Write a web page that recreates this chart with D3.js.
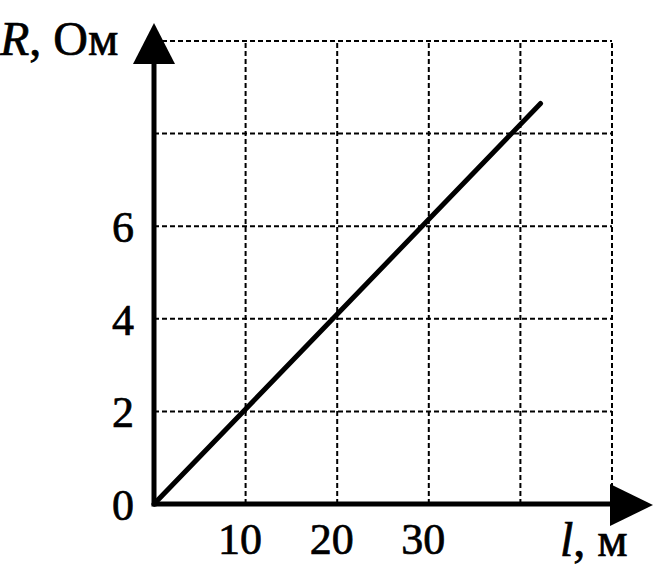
<!DOCTYPE html>
<html><head><meta charset="utf-8">
<script src="https://cdn.jsdelivr.net/npm/d3@7"></script>
<style>
html,body{margin:0;padding:0;background:#fff;}
svg{display:block;}
text{font-family:"Liberation Serif","Times New Roman",serif;fill:#000;stroke:#000;stroke-width:0.7px;}
</style></head><body>
<svg id="c" width="668" height="569"></svg>
<script>
// Data
const lengths = [0, 42.2];          // l, м
const resistances = [0, 8.65];      // R, Ом
const xTickLabels = [10, 20, 30];
const yTickLabels = [0, 2, 4, 6];
const xGrid = [10, 20, 30, 40, 50];
const yGrid = [2, 4, 6, 8, 10];
const xTitle = "l";
const xUnit = ", м";
const yTitle = "R";
const yUnit = ", Ом";

const svg = d3.select("#c");
const x = d3.scaleLinear().domain([0, 50]).range([154, 612]);
const y = d3.scaleLinear().domain([0, 10]).range([504, 41]);

// Grid (dashed)
const grid = svg.append("g").attr("stroke", "#000").attr("stroke-width", 2)
  .attr("stroke-dasharray", "5,3").attr("fill", "none");
grid.selectAll("line.v").data(xGrid).join("line").attr("class", "v")
  .attr("x1", d => x(d)).attr("x2", d => x(d)).attr("y1", y(0)).attr("y2", y(10));
grid.selectAll("line.h").data(yGrid).join("line").attr("class", "h")
  .attr("x1", x(0)).attr("x2", x(50)).attr("y1", d => y(d)).attr("y2", d => y(d));

// Axes labels via d3 axes
const fs = 44;
const xAxis = svg.append("g").attr("transform", `translate(-6,${y(0) + 50})`)
  .call(d3.axisBottom(x).tickValues(xTickLabels).tickSize(0).tickPadding(0).tickFormat(d3.format("d")));
xAxis.select(".domain").remove();
xAxis.selectAll("text").attr("font-size", fs).attr("dy", 0).attr("y", 0)
  .style("font-family", '"Liberation Serif", serif');

const yAxis = svg.append("g").attr("transform", `translate(${x(0) - 20},0)`)
  .call(d3.axisLeft(y).tickValues(yTickLabels).tickSize(0).tickPadding(0).tickFormat(d3.format("d")));
yAxis.select(".domain").remove();
yAxis.selectAll("text").attr("font-size", fs).attr("dy", "0.35em")
  .style("font-family", '"Liberation Serif", serif');

// Main axes
svg.append("line").attr("x1", x(0)).attr("x2", 612).attr("y1", y(0)).attr("y2", y(0))
  .attr("stroke", "#000").attr("stroke-width", 5);
svg.append("line").attr("x1", x(0)).attr("x2", x(0)).attr("y1", y(0) + 2.5).attr("y2", 62)
  .attr("stroke", "#000").attr("stroke-width", 5);
// Arrowheads
svg.append("path").attr("d", `M${x(0)},23 L${x(0) - 21},64 L${x(0) + 21},64 Z`).attr("fill", "#000");
svg.append("path").attr("d", `M653,${y(0) + 1} L610,${y(0) - 20} L610,${y(0) + 22} Z`).attr("fill", "#000");

// Data line
const line = d3.line().x((d, i) => x(lengths[i])).y((d, i) => y(resistances[i]));
svg.append("path").datum(lengths).attr("d", line)
  .attr("stroke", "#000").attr("stroke-width", 5).attr("fill", "none").attr("stroke-linecap", "round");

// Titles
const tfs = 48;
const yt = svg.append("text").attr("x", 0).attr("y", 55).attr("font-size", tfs);
yt.append("tspan").attr("font-style", "italic").text(yTitle);
yt.append("tspan").text(yUnit);
const xt = svg.append("text").attr("x", 560).attr("y", 556).attr("font-size", tfs);
xt.append("tspan").attr("font-style", "italic").text(xTitle);
xt.append("tspan").text(xUnit);
</script>
</body></html>
